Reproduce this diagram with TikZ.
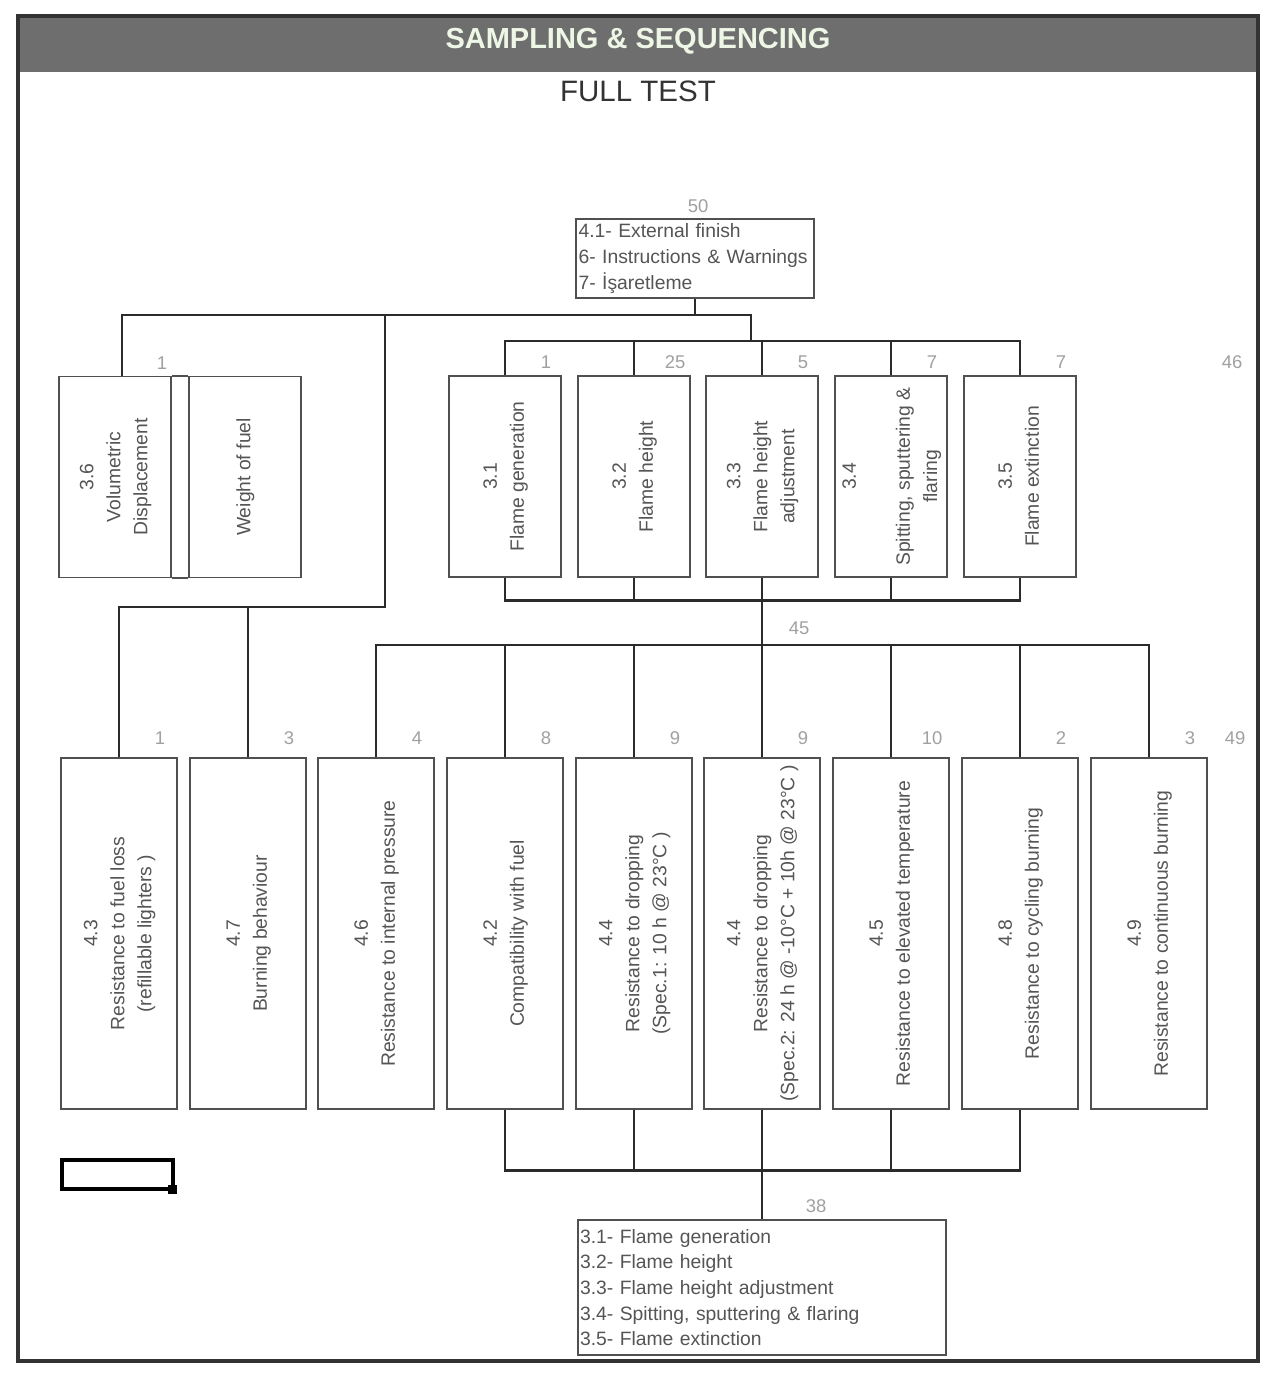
\documentclass[tikz,border=0pt]{standalone}
\usepackage{fontspec}
\setmainfont{Liberation Sans}
\usepackage{graphicx}
\definecolor{linec}{HTML}{2B2B2B}
\definecolor{boxc}{HTML}{505050}
\definecolor{txtc}{HTML}{555555}
\definecolor{numc}{HTML}{A0A0A0}
\definecolor{headc}{HTML}{6E6E6E}
\definecolor{headtxt}{HTML}{EEF7E6}
\definecolor{framec}{HTML}{333333}
\newcommand{\vtext}[1]{\rotatebox{90}{\begin{tabular}{@{}c@{}}#1\end{tabular}}}
\tikzset{
    conn/.style={draw=linec, line width=1.5pt},
    tbox/.style={draw=boxc, line width=0.8pt, fill=white, inner sep=0pt, text=txtc, font=\fontsize{11}{15.4}\selectfont},
    flamebox/.style={tbox, minimum width=2.24cm, minimum height=4.02cm},
    lowbox/.style={tbox, minimum width=2.32cm, minimum height=7.02cm},
    listbox/.style={tbox, align=left, font=\fontsize{11}{14.6}\selectfont},
    cnt/.style={text=numc, inner sep=0pt, font=\fontsize{10.5}{12}\selectfont}
}

\begin{document}
\begin{tikzpicture}[x=0.02cm, y=-0.02cm]
\useasboundingbox (0,0) rectangle (1271,1375);
\fill[headc] (18,16) rectangle (1258,72);
\draw[framec, line width=2.3pt] (18,16) rectangle (1258,1361);
\node[text=headtxt, font=\bfseries\fontsize{16.5}{20}\selectfont] (title) at (638,41) {SAMPLING \& SEQUENCING};
\node[text=framec, font=\fontsize{16.8}{20}\selectfont] (sub) at (638,91) {FULL TEST};
\node[listbox, minimum width=4.76cm, minimum height=1.58cm, text width=4.66cm] (top) at (695,258.5) {4.1- External finish\\6- Instructions \& Warnings\\7- İşaretleme};
\node[cnt] (n50) at (698,206) {50};
\node[flamebox] (vol) at (115,477) {\vtext{3.6\\Volumetric\\Displacement}};
\node[flamebox] (wgt) at (245,477) {\vtext{Weight of fuel}};
\draw[boxc, line width=0.8pt] (vol.north east) -- (wgt.north west) (vol.south east) -- (wgt.south west);
\node[cnt] (nvol) at (162,363) {1};
\node[flamebox] (f31) at (505,476.5) {\vtext{3.1\\Flame generation}};
\node[flamebox] (f32) at (634,476.5) {\vtext{3.2\\Flame height}};
\node[flamebox] (f33) at (762,476.5) {\vtext{3.3\\Flame height\\adjustment}};
\node[flamebox] (f34) at (891,476.5) {\vtext{3.4\\ \\Spitting, sputtering \&\\flaring}};
\node[flamebox] (f35) at (1020,476.5) {\vtext{3.5\\Flame extinction}};
\node[cnt] (nf31) at (546,362) {1};
\node[cnt] (nf32) at (675,362) {25};
\node[cnt] (nf33) at (803,362) {5};
\node[cnt] (nf34) at (932,362) {7};
\node[cnt] (nf35) at (1061,362) {7};
\node[cnt] (nf) at (1232,362) {46};
\node[lowbox] (l43) at (119,933.5) {\vtext{4.3\\Resistance to fuel loss\\(refillable lighters )}};
\node[lowbox] (l47) at (248,933.5) {\vtext{4.7\\Burning behaviour}};
\node[lowbox] (l46) at (376,933.5) {\vtext{4.6\\Resistance to internal pressure}};
\node[lowbox] (l42) at (505,933.5) {\vtext{4.2\\Compatibility with fuel}};
\node[lowbox] (l44a) at (634,933.5) {\vtext{4.4\\Resistance to dropping\\(Spec.1: 10 h @ 23°C )}};
\node[lowbox] (l44b) at (762,933.5) {\vtext{4.4\\Resistance to dropping\\(Spec.2: 24 h @ -10°C + 10h @ 23°C )}};
\node[lowbox] (l45) at (891,933.5) {\vtext{4.5\\Resistance to elevated temperature}};
\node[lowbox] (l48) at (1020,933.5) {\vtext{4.8\\Resistance to cycling burning}};
\node[lowbox] (l49) at (1149,933.5) {\vtext{4.9\\Resistance to continuous burning}};
\node[cnt] (nl43) at (160,738) {1};
\node[cnt] (nl47) at (289,738) {3};
\node[cnt] (nl46) at (417,738) {4};
\node[cnt] (nl42) at (546,738) {8};
\node[cnt] (nl44a) at (675,738) {9};
\node[cnt] (nl44b) at (803,738) {9};
\node[cnt] (nl45) at (932,738) {10};
\node[cnt] (nl48) at (1061,738) {2};
\node[cnt] (nl49) at (1190,738) {3};
\node[cnt] (nl) at (1235,738) {49};
\node[cnt] (n45) at (799,628) {45};
\node[listbox, minimum width=7.36cm, minimum height=2.7cm, text width=7.28cm] (bot) at (762,1287.5) {3.1- Flame generation\\3.2- Flame height\\3.3- Flame height adjustment\\3.4- Spitting, sputtering \& flaring\\3.5- Flame extinction};
\node[cnt] (n38) at (816,1206) {38};
\coordinate (b1l) at (122,315);
\coordinate (b1m) at (385,315);
\coordinate (b1r) at (751,315);
\coordinate (b2) at (751,341);
\coordinate (b3) at (385,607);
\coordinate (b5) at (762,645);
\draw[conn] (top.south) -- (top.south |- b1l);
\draw[conn] (b1l |- vol.north) -- (b1l) -- (b1r) -- (b2);
\draw[conn] (f31.north) |- (b2) -| (f35.north);
\draw[conn] (f32.north) -- (f32.north |- b2) (f33.north) -- (f33.north |- b2) (f34.north) -- (f34.north |- b2);
\draw[conn] (b1m) -- (b3) -| (l43.north);
\draw[conn] (l47.north) -- (l47.north |- b3);
\draw[conn] (f31.south) -- ++(0,23) -| (f35.south);
\draw[conn] (f32.south) -- ++(0,23) (f34.south) -- ++(0,23);
\draw[conn] (f33.south) -- (l44b.north);
\draw[conn] (l46.north) |- (b5) -| (l49.north);
\draw[conn] (l42.north) -- (l42.north |- b5) (l44a.north) -- (l44a.north |- b5) (l45.north) -- (l45.north |- b5) (l48.north) -- (l48.north |- b5);
\draw[conn] (l42.south) -- ++(0,61) -| (l48.south);
\draw[conn] (l44a.south) -- ++(0,61) (l45.south) -- ++(0,61);
\draw[conn] (l44b.south) -- (bot.north);
\draw[line width=2pt] (62,1160) rectangle (173,1189);
\fill (168,1185) rectangle (177,1194);
\end{tikzpicture}
\end{document}
